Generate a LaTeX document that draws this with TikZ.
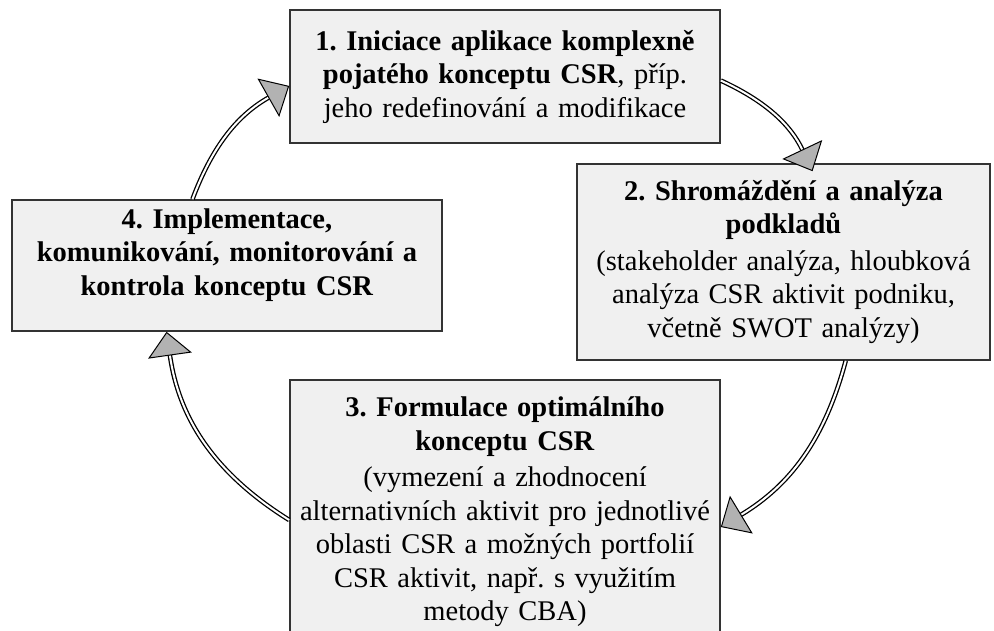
\documentclass[tikz,border=0pt]{standalone}
\usepackage{fontspec}
\setmainfont{Liberation Serif}
\frenchspacing
\usetikzlibrary{arrows.meta,calc}

\tikzset{
	box/.style={draw=black!80, line width=1.6pt, fill=black!6, align=center,
		text width=#1, inner xsep=4pt, font=\fontsize{28.5}{33.5}\selectfont},
	flow/.style={draw=black, line width=1.3pt, double=white, double distance=2pt,
		-{Triangle[length=24pt, width=44pt, fill=black!30, line width=1pt]}}
}

\begin{document}
\begin{tikzpicture}[x=1pt, y=-1pt]
	\useasboundingbox (0,0) rectangle (994,630);
	%draw boxes
	\node[box=422pt, minimum height=133pt] (b1) at (505,76.5)
		{\textbf{1. Iniciace aplikace komplexně}\\ \textbf{pojatého konceptu CSR}, příp.\\ jeho redefinování a modifikace};
	\node[box=405pt, minimum height=196pt] (b2) at (783.5,262)
		{\textbf{2. Shromáždění a analýza}\\ \textbf{podkladů}\\[3pt] (stakeholder analýza, hloubková\\ analýza CSR aktivit podniku,\\ včetně SWOT analýzy)};
	\node[box=422pt, anchor=north, inner ysep=17pt] (b3) at (505,379)
		{\textbf{3. Formulace optimálního}\\ \textbf{konceptu CSR}\\[3pt] (vymezení a zhodnocení\\ alternativních aktivit pro jednotlivé\\ oblasti CSR a možných portfolií\\ CSR aktivit, např. s využitím\\ metody CBA)};
	\node[box=422pt, minimum height=131pt] (b4) at (227,265.5)
		{\textbf{4. Implementace,}\\ \textbf{komunikování, monitorování a}\\ \textbf{kontrola konceptu CSR}\rule[-27pt]{0pt}{27pt}};
	%draw cycle
	\draw[flow] ($(b4.north west)!.42!(b4.north east)$) to[bend left=20] ($(b1.north west)!.57!(b1.south west)$);
	\draw[flow] ($(b1.north east)!.53!(b1.south east)$) to[bend left=20] ($($(b2.north west)!.57!(b2.north east)$)+(0,8)$);
	\draw[flow] ($(b2.south west)!.65!(b2.south east)$) to[bend left=22] ($(b3.north east)+(0,148)$);
	\draw[flow] ($(b3.north west)+(0,141)$) to[bend left=25] ($(b4.south west)!.36!(b4.south east)$);
\end{tikzpicture}
\end{document}
